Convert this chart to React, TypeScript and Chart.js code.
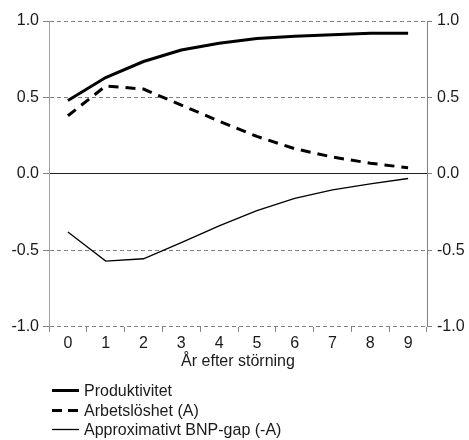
import React, { useEffect, useRef } from "react";
import { Chart, registerables } from "chart.js";

Chart.register(...registerables);

const categories = ["0", "1", "2", "3", "4", "5", "6", "7", "8", "9"];
const produktivitet = [0.48, 0.63, 0.735, 0.81, 0.855, 0.885, 0.9, 0.91, 0.92, 0.92];
const arbetsloshet = [0.38, 0.575, 0.555, 0.45, 0.345, 0.245, 0.165, 0.11, 0.07, 0.04];
const bnpGap = [-0.38, -0.57, -0.555, -0.45, -0.34, -0.24, -0.16, -0.105, -0.065, -0.03];
const seriesNames = ["Produktivitet", "Arbetslöshet (A)", "Approximativt BNP-gap (-A)"];
const xTitle = "År efter störning";

const FONT = "'Liberation Sans', Arial, sans-serif";

export default function App() {
  const ref = useRef<HTMLCanvasElement | null>(null);

  useEffect(() => {
    if (!ref.current) return;
    const tickFont = { family: FONT, size: 16 };
    const yTicks = {
      stepSize: 0.5,
      color: "#1a1a1a",
      font: tickFont,
      callback: (v: any) => Number(v).toFixed(1),
    };
    const chart = new Chart(ref.current, {
      type: "line",
      data: {
        labels: categories,
        datasets: [
          {
            label: seriesNames[0],
            data: produktivitet,
            borderColor: "#000",
            borderWidth: 3,
            pointRadius: 0,
            tension: 0,
          },
          {
            label: seriesNames[1],
            data: arbetsloshet,
            borderColor: "#000",
            borderWidth: 3,
            borderDash: [10, 7],
            pointRadius: 0,
            tension: 0,
          },
          {
            label: seriesNames[2],
            data: bnpGap,
            borderColor: "#000",
            borderWidth: 1.3,
            pointRadius: 0,
            tension: 0,
          },
        ],
      },
      options: {
        animation: false,
        responsive: false,
        maintainAspectRatio: false,
        layout: { padding: { top: 21, bottom: 69, left: 0, right: 0 } },
        plugins: { legend: { display: false }, tooltip: { enabled: false } },
        scales: {
          x: {
            type: "category",
            offset: true,
            grid: {
              offset: true,
              drawOnChartArea: false,
              drawTicks: true,
              tickLength: 5,
              tickColor: "#808080",
              tickWidth: 1,
            },
            border: { display: false },
            ticks: {
              color: "#1a1a1a",
              font: { family: FONT, size: 16, lineHeight: 1 },
              padding: 3.5,
              maxRotation: 0,
              autoSkip: false,
            },
            title: {
              display: true,
              text: xTitle,
              color: "#1a1a1a",
              font: tickFont,
              padding: { top: -3, bottom: 0 },
            },
          },
          y: {
            position: "left",
            min: -1,
            max: 1,
            afterFit: (s: any) => {
              s.width = 49;
            },
            grid: {
              color: (ctx: any) => (ctx.tick && ctx.tick.value === 0 ? "#222" : "#808080"),
              lineWidth: 1,
              tickLength: 6,
              tickColor: "#808080",
              tickBorderDash: [],
            },
            border: {
              display: true,
              color: "#a0a0a0",
              width: 1,
              dash: (ctx: any) => (ctx.tick && ctx.tick.value === 0 ? [] : [4, 3]),
            },
            ticks: { ...yTicks, padding: 4 },
          },
          y2: {
            position: "right",
            min: -1,
            max: 1,
            afterFit: (s: any) => {
              s.width = 42;
            },
            grid: {
              drawOnChartArea: false,
              tickLength: 5,
              tickColor: "#808080",
            },
            border: { display: true, color: "#808080", width: 1 },
            ticks: { ...yTicks, padding: 5 },
          },
        },
      },
    });
    return () => chart.destroy();
  }, []);

  const legendRow = (kind: number, text: string) => (
    <div style={{ display: "flex", alignItems: "center", height: 19.5 }}>
      <svg width={28} height={19} style={{ display: "block" }}>
        <line
          x1={0}
          y1={9.5}
          x2={27}
          y2={9.5}
          stroke="#000"
          strokeWidth={kind === 2 ? 1.3 : 3}
          strokeDasharray={kind === 1 ? "10,6" : undefined}
        />
      </svg>
      <span style={{ marginLeft: 4, fontFamily: FONT, fontSize: 16, color: "#1a1a1a", whiteSpace: "nowrap", lineHeight: "19px" }}>
        {text}
      </span>
    </div>
  );

  return (
    <div style={{ position: "absolute", left: 0, top: 0, width: 469, height: 440, background: "#fff" }}>
      <canvas ref={ref} width={469} height={440} style={{ display: "block" }} />
      <div style={{ position: "absolute", left: 52, top: 381 }}>
        {legendRow(0, seriesNames[0])}
        {legendRow(1, seriesNames[1])}
        {legendRow(2, seriesNames[2])}
      </div>
    </div>
  );
}
